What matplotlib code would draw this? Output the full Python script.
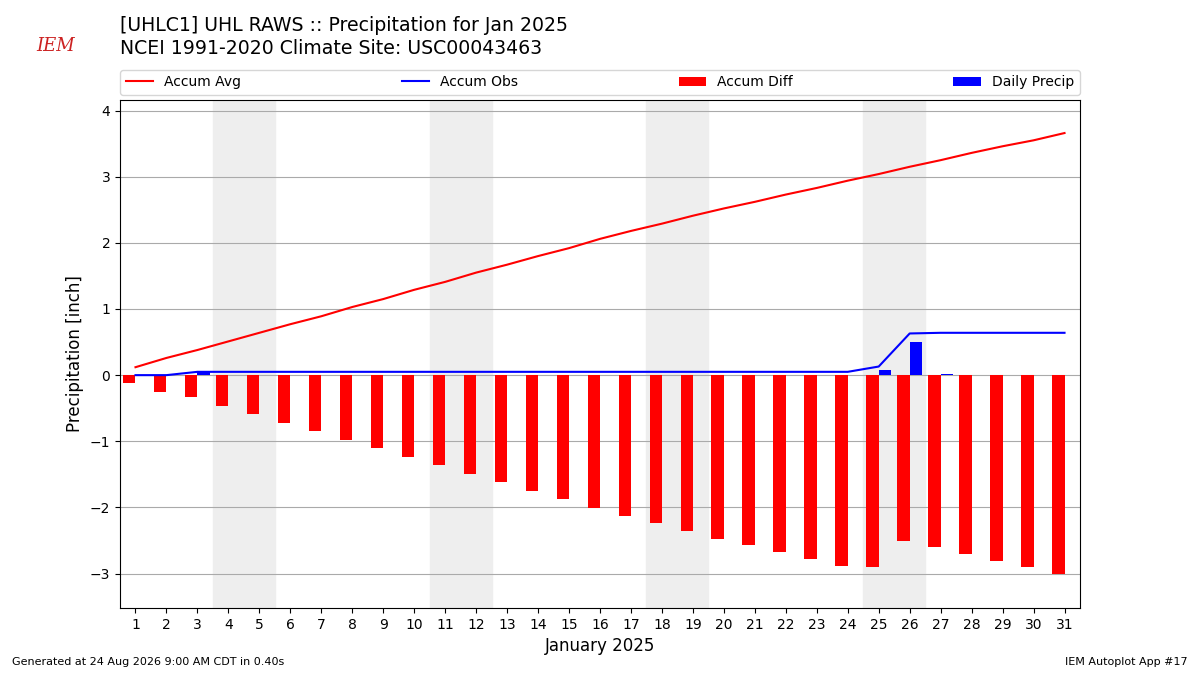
import matplotlib
matplotlib.use("Agg")
import matplotlib.pyplot as plt

days = list(range(1, 32))

# accumulated climate average (inch)
accum_avg = [0.12, 0.26, 0.38, 0.51, 0.64, 0.77, 0.89, 1.03, 1.15, 1.29,
             1.41, 1.55, 1.67, 1.80, 1.92, 2.06, 2.18, 2.29, 2.41, 2.52,
             2.62, 2.73, 2.83, 2.94, 3.04, 3.15, 3.25, 3.36, 3.46, 3.55,
             3.66]
# accumulated observed precip
accum_obs = [0.0, 0.0, 0.05, 0.05, 0.05, 0.05, 0.05, 0.05, 0.05, 0.05,
             0.05, 0.05, 0.05, 0.05, 0.05, 0.05, 0.05, 0.05, 0.05, 0.05,
             0.05, 0.05, 0.05, 0.05, 0.13, 0.63, 0.64, 0.64, 0.64, 0.64,
             0.64]
# obs minus avg
accum_diff = [-0.12, -0.26, -0.33, -0.46, -0.59, -0.72, -0.84, -0.98, -1.10, -1.24,
              -1.36, -1.50, -1.62, -1.75, -1.87, -2.01, -2.13, -2.24, -2.36, -2.47,
              -2.57, -2.68, -2.78, -2.89, -2.90, -2.51, -2.60, -2.71, -2.81, -2.90,
              -3.01]
daily_precip = [0.0, 0.0, 0.05, 0.0, 0.0, 0.0, 0.0, 0.0, 0.0, 0.0,
                0.0, 0.0, 0.0, 0.0, 0.0, 0.0, 0.0, 0.0, 0.0, 0.0,
                0.0, 0.0, 0.0, 0.0, 0.08, 0.50, 0.01, 0.0, 0.0, 0.0,
                0.0]
weekends = [(3.5, 5.5), (10.5, 12.5), (17.5, 19.5), (24.5, 26.5)]

fig = plt.figure(figsize=(12, 6.75), dpi=100)
ax = fig.add_axes([0.1, 0.0993, 0.8, 0.7526])

for x0, x1 in weekends:
    ax.axvspan(x0, x1, color="#eeeeee", zorder=0)

ax.plot(days, accum_avg, color="r", label="Accum Avg", zorder=3)
ax.plot(days, accum_obs, color="b", label="Accum Obs", zorder=3)
ax.bar(days, accum_diff, width=-0.4, align="edge", color="r",
       label="Accum Diff", zorder=2)
ax.bar(days, daily_precip, width=0.4, align="edge", color="b",
       label="Daily Precip", zorder=2)

ax.set_xlim(0.5, 31.5)
ax.set_ylim(-3.52, 4.16)
ax.set_xticks(days)
ax.set_yticks(range(-3, 5))
ax.grid(True, axis="y", color="#aaaaaa", zorder=1)
ax.set_axisbelow(True)
ax.set_xlabel("January 2025", fontsize=12)
ax.set_ylabel("Precipitation [inch]", fontsize=12)

ax.legend(loc="lower left", bbox_to_anchor=(0, 1.01, 1, 0.05), ncol=4,
          mode="expand", borderaxespad=0, fontsize=10)

fig.text(0.1, 0.962, "[UHLC1] UHL RAWS :: Precipitation for Jan 2025",
         fontsize=13.6, va="center")
fig.text(0.1, 0.928, "NCEI 1991-2020 Climate Site: USC00043463",
         fontsize=13.6, va="center")
fig.text(0.03, 0.932, "IEM", color="#cc2222", fontsize=13,
         family="serif", style="italic", va="center")

fig.text(0.01, 0.015, "Generated at 24 Aug 2026 9:00 AM CDT in 0.40s",
         fontsize=8)
fig.text(0.99, 0.015, "IEM Autoplot App #17", fontsize=8, ha="right")

fig.savefig("out.png", dpi=100)
